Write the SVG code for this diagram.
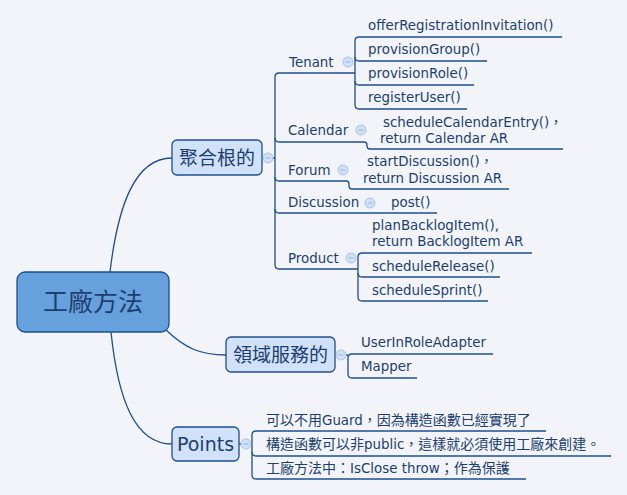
<svg xmlns="http://www.w3.org/2000/svg" width="627" height="495" viewBox="0 0 627 495">
<defs>
<style>
.bg{fill:#f2f4f9}
.ln{fill:none;stroke:#1d4f8c;stroke-width:1.3}
.t{font-family:"DejaVu Sans","Noto Sans CJK TC",sans-serif;font-size:13.4px;fill:#1d3f6e}
.z{font-family:"Noto Sans CJK TC",sans-serif;font-size:14px;fill:#1d3f6e}
.b{font-family:"DejaVu Sans","Noto Sans CJK TC",sans-serif;font-size:19px;fill:#1d3f6e}
.box{fill:#d1e1fa;stroke:#1d4f8c;stroke-width:1.3}
.col{fill:#cfe0f7;stroke:#a8c2ea;stroke-width:1}
.mn{stroke:#9ab6e2;stroke-width:1}
</style>
<g id="collapse">
<circle class="col" cx="0" cy="0" r="5"/>
<line class="mn" x1="-2.5" y1="0" x2="2.5" y2="0"/>
</g>
</defs>
<rect class="bg" x="0" y="0" width="627" height="495"/>

<g id="connectors">
<path class="ln" d="M110,272 C118,205 135,158 172,158"/>
<path class="ln" d="M111,332 C118,400 135,444 172,444"/>
<path class="ln" d="M166,330 C185,348 200,355 226,355"/>
<line class="ln" x1="262" y1="158" x2="264" y2="158"/>
<line class="ln" x1="273" y1="158" x2="275" y2="158"/>
<line class="ln" x1="335" y1="355" x2="337" y2="355"/>
<line class="ln" x1="346" y1="355" x2="348" y2="355"/>
<line class="ln" x1="239" y1="444" x2="241" y2="444"/>
<line class="ln" x1="251" y1="444" x2="252" y2="444"/>
<path class="ln" d="M355,73 L279,73 Q275,73 275,77 L275,265 Q275,269 279,269 L358,269"/>
<path class="ln" d="M275,138 Q275,142 279,142 L364,142 Q367,142 367,145 L367,146 Q367,149 370,149 L563,149"/>
<path class="ln" d="M275,177 Q275,181 279,181 L346,181 Q349,181 349,184 L349,186 Q349,189 352,189 L509,189"/>
<path class="ln" d="M275,209 Q275,213 279,213 L437,213"/>
<path class="ln" d="M562,37 L359,37 Q355,37 355,41 L355,105 Q355,109 359,109 L467,109"/>
<path class="ln" d="M355,57 Q355,61 359,61 L487,61"/>
<path class="ln" d="M355,81 Q355,85 359,85 L474,85"/>
<path class="ln" d="M532,253 L362,253 Q358,253 358,257 L358,297 Q358,301 362,301 L488,301"/>
<path class="ln" d="M358,273 Q358,277 362,277 L500,277"/>
<path class="ln" d="M493,354 L352,354 Q348,354 348,358 L348,374 Q348,378 352,378 L417,378"/>
<path class="ln" d="M546,431 L256,431 Q252,431 252,435 L252,475 Q252,479 256,479 L526,479"/>
<path class="ln" d="M252,452 Q252,456 256,456 L611,456"/>
</g>

<g id="root">
<rect x="17" y="272" width="152" height="60" rx="8" fill="#66a0dd" stroke="#1d4f8c" stroke-width="1.3"/>
<text x="93" y="311" text-anchor="middle" font-family="Noto Sans CJK TC, sans-serif" font-size="25" fill="#1d3f6e">工廠方法</text>
</g>

<g id="aggregate">
<rect class="box" x="172" y="140" width="90" height="35" rx="5"/>
<text class="b" x="217" y="165" text-anchor="middle">聚合根的</text>
<use href="#collapse" x="268" y="158"/>
</g>

<g id="domainservice">
<rect class="box" x="226" y="337" width="109" height="35" rx="5"/>
<text class="b" x="280.5" y="362" text-anchor="middle">領域服務的</text>
<use href="#collapse" x="341" y="355"/>
</g>

<g id="points">
<rect class="box" x="172" y="427" width="67" height="34" rx="5"/>
<text class="b" x="205.5" y="451" text-anchor="middle">Points</text>
<use href="#collapse" x="246" y="444"/>
</g>

<g id="tenant">
<text class="t" x="289" y="67">Tenant</text>
<use href="#collapse" x="348" y="62"/>
</g>
<g id="calendar">
<text class="t" x="288" y="135">Calendar</text>
<use href="#collapse" x="361" y="130"/>
</g>
<g id="forum">
<text class="t" x="288" y="175">Forum</text>
<use href="#collapse" x="343" y="170"/>
</g>
<g id="discussion">
<text class="t" x="288" y="207">Discussion</text>
<use href="#collapse" x="370" y="203"/>
</g>
<g id="product">
<text class="t" x="288" y="263">Product</text>
<use href="#collapse" x="351" y="258"/>
</g>

<g id="t1"><text class="t" x="368" y="30">offerRegistrationInvitation()</text></g>
<g id="t2"><text class="t" x="368" y="54">provisionGroup()</text></g>
<g id="t3"><text class="t" x="368" y="78">provisionRole()</text></g>
<g id="t4"><text class="t" x="368" y="102">registerUser()</text></g>

<g id="cal1"><text class="t" x="383" y="127">scheduleCalendarEntry()，</text><text class="t" x="380" y="143">return Calendar AR</text></g>
<g id="for1"><text class="t" x="367" y="166">startDiscussion()，</text><text class="t" x="363" y="183">return Discussion AR</text></g>
<g id="dis1"><text class="t" x="391" y="207">post()</text></g>

<g id="p1"><text class="t" x="372" y="230">planBacklogItem(),</text><text class="t" x="372" y="246">return BacklogItem AR</text></g>
<g id="p2"><text class="t" x="372" y="271">scheduleRelease()</text></g>
<g id="p3"><text class="t" x="372" y="295">scheduleSprint()</text></g>

<g id="d1"><text class="t" x="361" y="347">UserInRoleAdapter</text></g>
<g id="d2"><text class="t" x="361" y="371">Mapper</text></g>

<g id="pt1"><text class="z" x="266" y="425">可以不用<tspan class="t">Guard</tspan>，因為構造函數已經實現了</text></g>
<g id="pt2"><text class="z" x="266" y="449">構造函數可以非<tspan class="t">public</tspan>，這樣就必須使用工廠來創建。</text></g>
<g id="pt3"><text class="z" x="266" y="473">工廠方法中：<tspan class="t">IsClose throw</tspan>；作為保護</text></g>
</svg>
